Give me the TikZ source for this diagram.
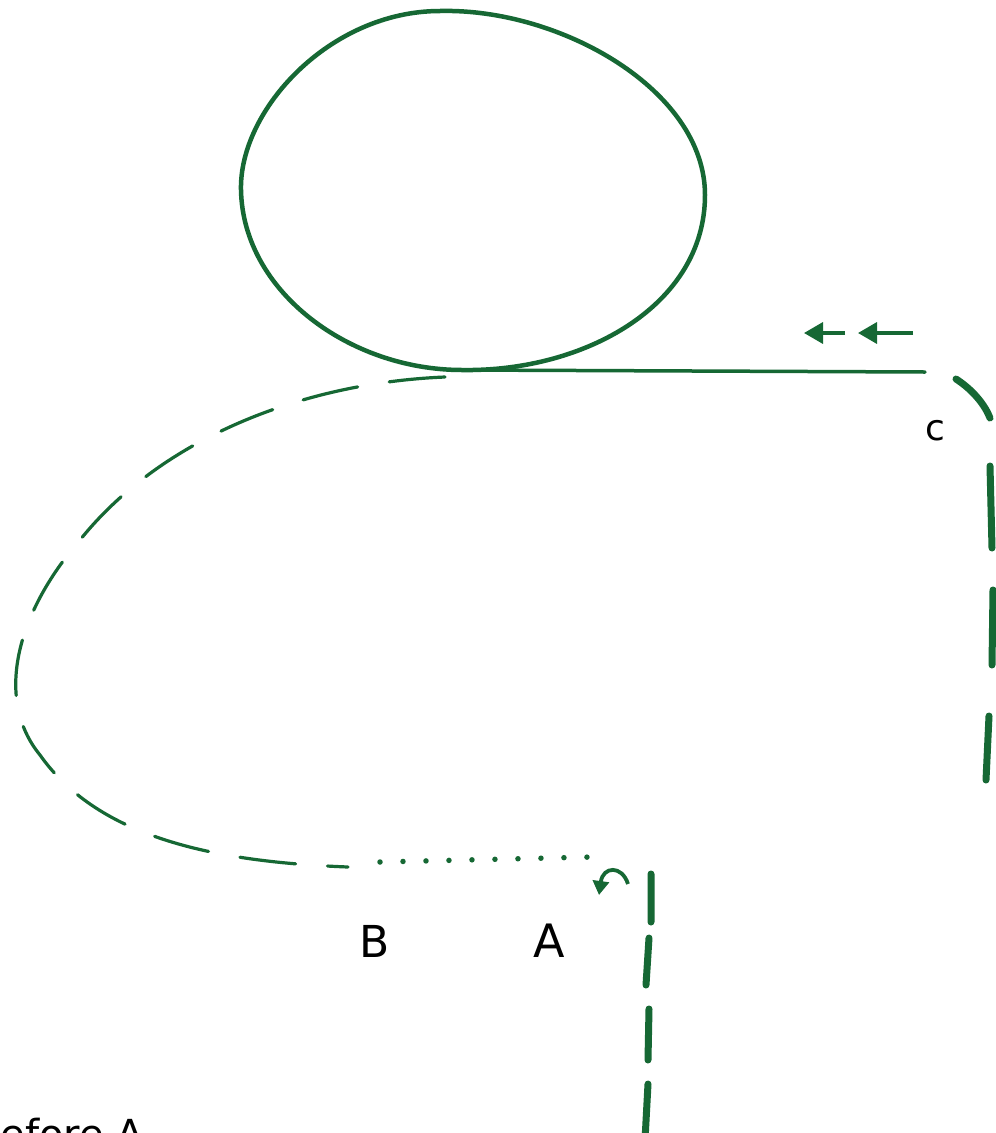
\documentclass[tikz,border=0pt]{standalone}
\usepackage{fontspec}
\setmainfont{DejaVu Sans}
\usetikzlibrary{arrows.meta}
\definecolor{ink}{RGB}{22,104,52}
\tikzset{
  outline/.style={draw=ink, line width=4.5pt, line cap=round, line join=round},
  thin/.style={draw=ink, line width=3.5pt, line cap=round},
  loopdash/.style={draw=ink, line width=3.2pt, line cap=round, dash pattern=on 56pt off 32pt},
  dots/.style={draw=ink, line width=5.5pt, line cap=round, dash pattern=on 0pt off 23pt},
  thickdash/.style={draw=ink, line width=7pt, line cap=round},
  flowarrow/.style={draw=ink, line width=3.5pt, -{Triangle[length=19pt,width=21pt]}},
  curlarrow/.style={draw=ink, line width=3.8pt, -{Triangle[length=14pt,width=16pt]}},
  lbl/.style={text=black, inner sep=0pt},
}
\begin{document}
\begin{tikzpicture}[x=1pt,y=-1pt]
\useasboundingbox (0,0) rectangle (996,1133);
\clip (0,0) rectangle (996,1133);
\fill[white] (0,0) rectangle (996,1133);

% named points
\coordinate (T) at (462,370);
\coordinate (Cend) at (925,372);
\coordinate (Bend) at (380,862);
\coordinate (Aend) at (592,857);

% loop (circle)
\draw[outline] (T) .. controls (350,370) and (243,292) .. (241,190)
  .. controls (239,110) and (330,11) .. (440,11)
  .. controls (560,8) and (705,90) .. (705,195)
  .. controls (705,305) and (585,372) .. (T) -- cycle;

% straight line to C
\draw[thin] (T) -- (Cend);

% arrows above line
\coordinate (a1s) at (845,333);
\coordinate (a1e) at (804,333);
\coordinate (a2s) at (913,333);
\coordinate (a2e) at (858,333);
\draw[flowarrow] (a1s) -- (a1e);
\draw[flowarrow] (a2s) -- (a2e);

% dashed return loop
\draw[loopdash] (445,377) .. controls (300,383) and (160,440) .. (80,540)
  .. controls (15,615) and (-5,700) .. (40,755)
  .. controls (100,840) and (220,862) .. (348,867);

% dotted segment B..A
\draw[dots] (Bend) -- (Aend);

% curl arrow near A
\draw[curlarrow] (628,884) .. controls (622,865) and (603,866) .. (599,895);

% thick dashed line on the right (C)
\draw[thickdash] (956,379) .. controls (973,390) and (985,405) .. (990,418)
  (990,466) -- (992,548)
  (993,590) -- (992,665)
  (989,716) -- (986,780);

% thick dashed line below A
\draw[thickdash] (651,874) -- (651,922)
  (649,938) -- (646,985)
  (649,1009) -- (648,1060)
  (648,1084) -- (645,1140);

% labels
\node[lbl, font=\fontsize{44}{44}\selectfont] (B) at (375,941) {B};
\node[lbl, font=\fontsize{46}{46}\selectfont] (A) at (549,941) {A};
\node[lbl, font=\fontsize{36}{36}\selectfont] (C) at (935,431) {c};
\node[lbl, anchor=base west, font=\fontsize{40}{40}\selectfont] (note) at (-25,1148) {before A};
\end{tikzpicture}
\end{document}
